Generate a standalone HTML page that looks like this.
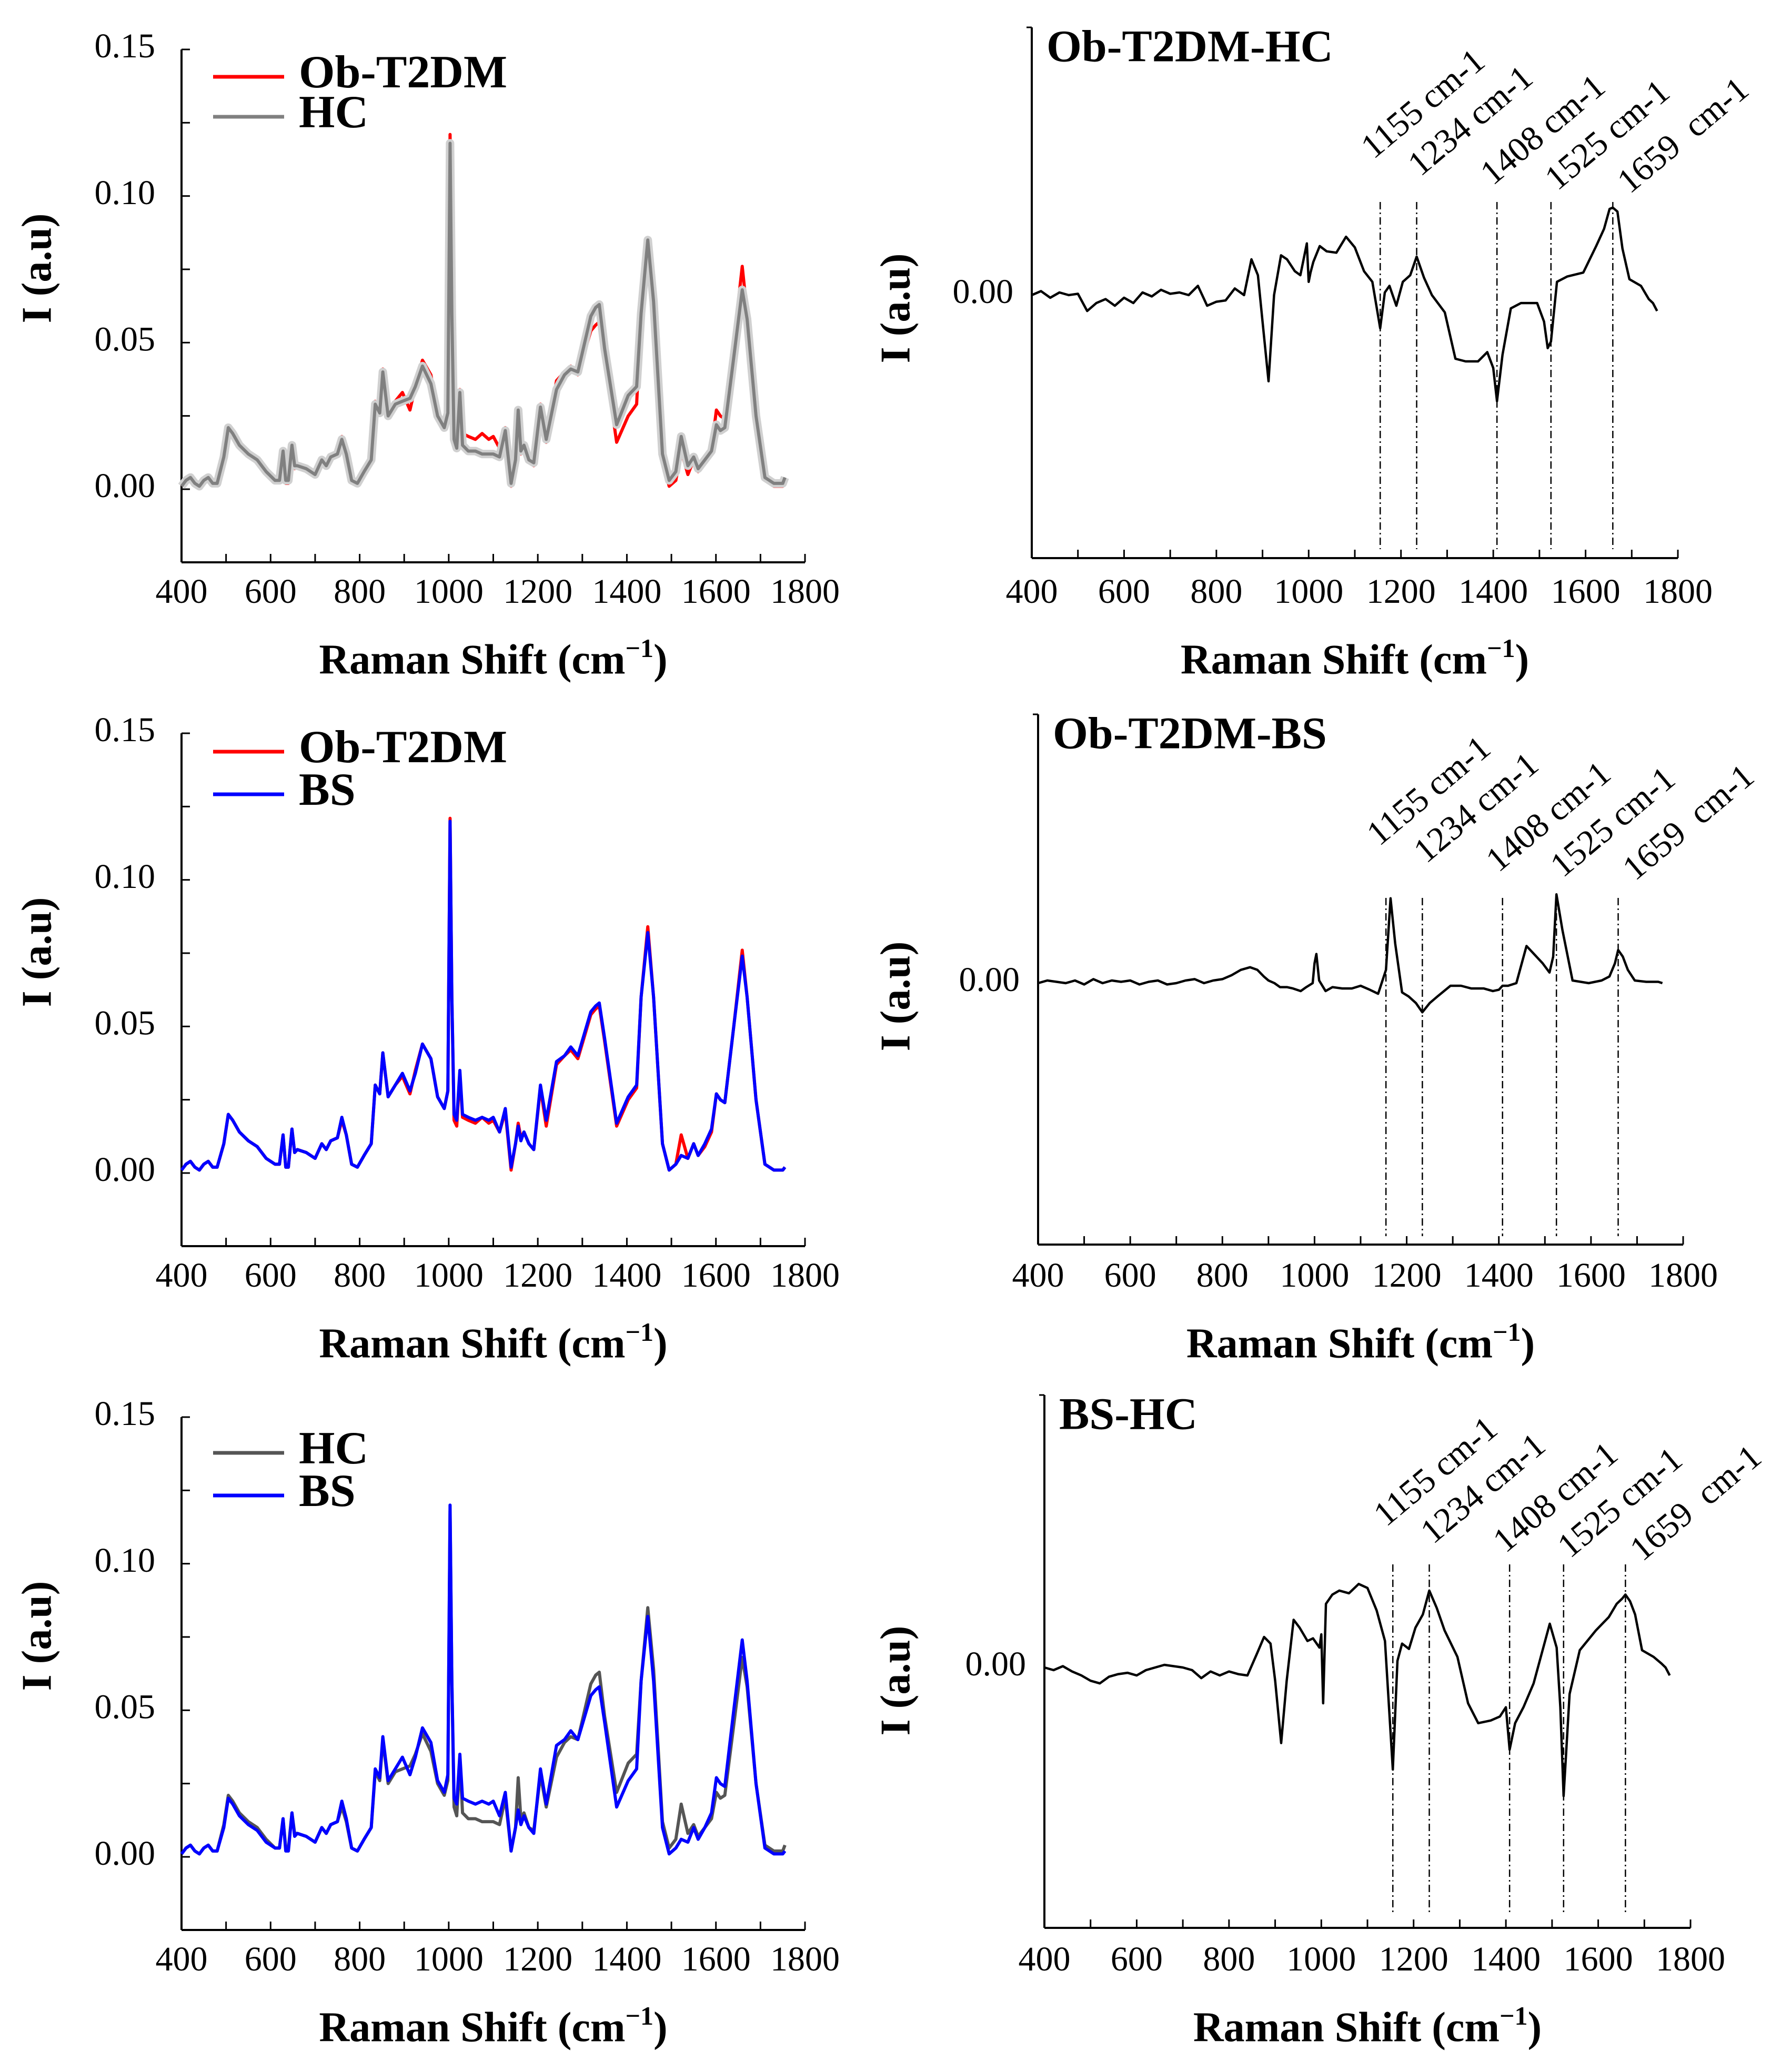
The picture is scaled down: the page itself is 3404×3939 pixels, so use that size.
<!DOCTYPE html>
<html><head><meta charset="utf-8"><style>
html,body{margin:0;padding:0;background:#fff}
svg{display:block}
text{font-family:"Liberation Serif",serif;fill:#000}
</style></head><body>
<svg id="fig" xmlns="http://www.w3.org/2000/svg" width="3404" height="3939" viewBox="0 0 3404 3939"></svg>
<script>
// ---- data: Raman shift positions (cm-1) ----
const shifts = [400,410,420,430,440,450,460,470,480,495,505,515,530,550,570,590,610,620,628,634,640,648,654,660,680,700,715,725,735,750,760,770,782,795,810,826,835,845,852,864,880,896,913,925,941,960,975,990,998,1003,1007,1012,1018,1025,1031,1044,1060,1075,1090,1100,1114,1127,1140,1150,1156,1162,1169,1180,1191,1206,1219,1242,1260,1274,1290,1319,1330,1338,1350,1377,1403,1422,1432,1447,1460,1480,1495,1510,1522,1537,1550,1560,1575,1590,1601,1610,1620,1640,1659,1670,1690,1710,1730,1750,1755];
const obT2dm = [.001,.003,.004,.002,.001,.003,.004,.002,.002,.010,.020,.018,.014,.011,.009,.005,.003,.003,.013,.002,.002,.015,.007,.008,.007,.005,.010,.008,.011,.012,.018,.013,.003,.002,.006,.010,.030,.027,.041,.026,.030,.033,.027,.035,.044,.039,.026,.022,.028,.121,.060,.018,.016,.034,.019,.018,.017,.019,.017,.018,.014,.021,.001,.010,.017,.012,.014,.010,.008,.029,.016,.037,.040,.042,.039,.054,.056,.057,.045,.016,.025,.029,.060,.084,.060,.010,.001,.003,.013,.005,.010,.006,.009,.014,.027,.025,.024,.050,.076,.060,.025,.003,.001,.001,.002];
const hc = [.001,.003,.004,.002,.001,.003,.004,.002,.002,.011,.021,.019,.015,.012,.010,.006,.003,.003,.013,.003,.003,.015,.008,.008,.007,.005,.010,.008,.011,.012,.017,.012,.003,.002,.006,.010,.029,.026,.040,.025,.029,.030,.031,.035,.042,.036,.025,.021,.026,.118,.060,.017,.014,.033,.015,.013,.013,.012,.012,.012,.011,.020,.002,.010,.027,.013,.015,.010,.009,.028,.017,.034,.039,.041,.040,.059,.062,.063,.048,.022,.032,.035,.060,.085,.064,.012,.003,.006,.018,.008,.011,.007,.010,.013,.022,.020,.021,.045,.068,.058,.025,.004,.002,.002,.004];
const bs = [.001,.003,.004,.002,.001,.003,.004,.002,.002,.010,.020,.018,.014,.011,.009,.005,.003,.003,.013,.002,.002,.015,.007,.008,.007,.005,.010,.008,.011,.012,.019,.013,.003,.002,.006,.010,.030,.027,.041,.026,.030,.034,.028,.034,.044,.039,.026,.022,.028,.120,.060,.020,.018,.035,.020,.019,.018,.019,.018,.019,.014,.022,.002,.010,.016,.011,.014,.010,.008,.030,.018,.038,.040,.043,.040,.055,.057,.058,.046,.017,.026,.030,.060,.082,.060,.010,.001,.003,.006,.005,.010,.006,.010,.015,.027,.025,.024,.050,.074,.060,.025,.003,.001,.001,.002];
const yTickLabels = ["0.00","0.05","0.10","0.15"];
const xTickLabels = ["400","600","800","1000","1200","1400","1600","1800"];
// ---- difference spectra ----
const diffShifts = [400,420,440,460,480,500,520,540,560,580,600,620,640,660,680,700,720,740,760,780,800,820,840,860,876,890,900,913,925,940,953,970,982,996,1000,1004,1010,1024,1039,1060,1081,1100,1120,1138,1155,1165,1175,1190,1204,1220,1234,1250,1267,1295,1318,1340,1367,1387,1400,1408,1420,1438,1460,1495,1510,1518,1525,1538,1560,1595,1623,1640,1652,1659,1669,1680,1695,1720,1737,1746,1755];
const diffObHc = [0,.03,-.02,.02,0,.01,-.12,-.06,-.03,-.08,-.02,-.06,.02,-.01,.04,.01,.02,0,.07,-.08,-.05,-.04,.05,0,.27,.15,-.2,-.65,.0,.3,.27,.18,.15,.39,.1,.17,.25,.37,.33,.32,.44,.36,.18,.1,-.25,.02,.07,-.08,.1,.15,.29,.13,.0,-.13,-.48,-.5,-.5,-.43,-.55,-.8,-.45,-.1,-.06,-.06,-.2,-.4,-.35,.1,.14,.17,.37,.5,.65,.66,.63,.35,.12,.07,-.03,-.06,-.12];
const diffObBs = [0,.02,.01,0,.02,-.01,.03,.0,.02,.01,.02,-.01,.01,.02,-.01,.0,.02,.03,.0,.02,.03,.06,.1,.12,.1,.05,.02,.0,-.03,-.03,-.04,-.06,-.03,.0,.15,.22,.02,-.06,-.03,-.04,-.04,-.02,-.05,-.08,.1,.64,.3,-.07,-.1,-.15,-.22,-.15,-.1,-.02,-.02,-.04,-.04,-.06,-.05,-.02,-.02,.0,.28,.15,.08,.2,.67,.4,.02,.0,.02,.05,.15,.25,.2,.1,.02,.01,.01,.01,.0];
const diffBsHc = [0,-.02,.01,-.03,-.06,-.1,-.12,-.07,-.05,-.04,-.06,-.02,.0,.02,.01,.0,-.02,-.08,-.03,-.06,-.03,-.05,-.06,.1,.23,.18,-.1,-.57,-.1,.36,.3,.2,.22,.15,.25,-.27,.48,.55,.58,.56,.63,.6,.43,.2,-.77,.05,.18,.14,.3,.4,.58,.45,.28,.08,-.27,-.42,-.4,-.37,-.3,-.62,-.42,-.3,-.12,.33,.15,-.3,-.97,-.2,.13,.28,.38,.48,.52,.55,.5,.4,.13,.08,.03,.0,-.06];
const markerShifts = [1155,1234,1408,1525,1659];
const markerLabels = ["1155 cm-1","1234 cm-1","1408 cm-1","1525 cm-1","1659\u00a0\u00a0cm-1"];

const NS = "http://www.w3.org/2000/svg";
const svg = document.getElementById('fig');
function mk(tag, attrs, parent){
  const e = document.createElementNS(NS, tag);
  for (const k in attrs) e.setAttribute(k, attrs[k]);
  (parent||svg).appendChild(e);
  return e;
}
function xScale(p){ return v => p.x0 + (v-400)/(1400)*(p.x1-p.x0); }

function ramanTitle(cx, cy, g){
  const t = mk('text', {x:cx, y:cy, 'text-anchor':'middle', 'font-size':80, 'font-weight':'bold', 'dominant-baseline':'middle'}, g);
  
  
  t.appendChild(document.createTextNode('Raman Shift (cm'));
  const s = mk('tspan', {'font-size':50, dy:-24}, t);
  s.textContent = '\u22121';
  const s2 = mk('tspan', {dy:24}, t);
  s2.textContent = ')';
}
function yTitle(cx, cy, g){
  const t = mk('text', {x:0, y:0, transform:`translate(${cx},${cy}) rotate(-90)`, 'text-anchor':'middle', 'dominant-baseline':'middle', 'font-size':80, 'font-weight':'bold'}, g);
  
  
  t.textContent = 'I (a.u)';
}
function xAxis(p, X, g){
  const ax = mk('line', {x1:p.x0, y1:p.bottom, x2:p.x1, y2:p.bottom, stroke:'#000', 'stroke-width':4}, g);
  
  
  for (let v=400; v<=1800; v+=100){
    const tk = mk('line', {x1:X(v), y1:p.bottom, x2:X(v), y2:p.bottom-16, stroke:'#000', 'stroke-width':3}, g);
    
    
  }
  xTickLabels.forEach((lab,i)=>{
    const v = 400 + i*200;
    const t = mk('text', {x:X(v), y:p.labY, 'text-anchor':'middle', 'dominant-baseline':'middle', 'font-size':66}, g);
    
    
    t.textContent = lab;
  });
  ramanTitle((p.x0+p.x1)/2, p.titleY, g);
}
function linePath(xs, vals, X, Y){
  return xs.map((v,i)=>(i?'L':'M')+X(v).toFixed(1)+' '+Y(vals[i]).toFixed(1)).join(' ');
}

// ---- left panels ----
const left = [
  {y15:94, series:[{v:obT2dm,c:'#ff0000',n:'Ob-T2DM'},{v:hc,c:'#808080',n:'HC',band:true}], legY:[146,222]},
  {y15:1394, series:[{v:obT2dm,c:'#ff0000',n:'Ob-T2DM'},{v:bs,c:'#0000ff',n:'BS'}], legY:[1429,1510]},
  {y15:2694, series:[{v:hc,c:'#555555',n:'HC'},{v:bs,c:'#0000ff',n:'BS'}], legY:[2762,2843]}
];
left.forEach((L,k)=>{
  const g = mk('g', {});
  
  
  const y0 = L.y15 + 836;
  const p = {x0:345, x1:1530, bottom:y0+139, labY:1131+1300*k, titleY:1262+1300*k};
  const X = xScale(p);
  const Y = v => y0 - v/0.15*836;
  const ya = mk('line', {x1:p.x0, y1:L.y15, x2:p.x0, y2:p.bottom, stroke:'#000', 'stroke-width':4}, g);
  
  
  for (let v=-0.025; v<=0.151; v+=0.025){
    const tk = mk('line', {x1:p.x0, y1:Y(v), x2:p.x0+16, y2:Y(v), stroke:'#000', 'stroke-width':3}, g);
    
    
  }
  yTickLabels.forEach((lab,i)=>{
    const t = mk('text', {x:295, y:Y(i*0.05), 'text-anchor':'end', 'dominant-baseline':'middle', 'font-size':66}, g);
    
    
    t.textContent = lab;
  });
  xAxis(p, X, g);
  yTitle(78, y0-420, g);
  L.series.forEach((s,j)=>{
    if (s.band){
      const b = mk('path', {d:linePath(shifts, s.v, X, Y), fill:'none', stroke:'#d0d0d0', 'stroke-width':16, 'stroke-linejoin':'round'}, g);
      
      
    }
    const pth = mk('path', {d:linePath(shifts, s.v, X, Y), fill:'none', stroke:s.c, 'stroke-width':6, 'stroke-linejoin':'round'}, g);
    
    
    const ly = L.legY[j];
    const ll = mk('line', {x1:405, y1:ly, x2:540, y2:ly, stroke:s.c, 'stroke-width':7}, g);
    
    
    const lt = mk('text', {x:568, y:ly, 'dominant-baseline':'middle', 'font-size':88, 'font-weight':'bold'}, g);
    
    
    lt.textContent = s.n;
  });
});

// ---- right panels ----
const right = [
  {x0:1961, x1:3189, top:52, zero:561, bottom:1061, vals:diffObHc, title:'Ob-T2DM-HC', dash:[384,1044], labTop:52},
  {x0:1973, x1:3199, top:1358, zero:1869, bottom:2366, vals:diffObBs, title:'Ob-T2DM-BS', dash:[1707,2350], labTop:1358},
  {x0:1985, x1:3213, top:2652, zero:3170, bottom:3665, vals:diffBsHc, title:'BS-HC', dash:[2974,3640], labTop:2652}
];
const labDx = [-13,7,-8,12,32];
const labDy = [252,285,302,312,318];
right.forEach((R,k)=>{
  const g = mk('g', {});
  
  
  const p = {x0:R.x0, x1:R.x1, bottom:R.bottom, labY:1131+1300*k, titleY:1262+1300*k};
  const X = xScale(p);
  const Y = v => R.zero - v*252;
  const ya = mk('line', {x1:p.x0, y1:R.top, x2:p.x0, y2:p.bottom, stroke:'#000', 'stroke-width':4}, g);
  
  
  const tk0 = mk('line', {x1:R.x0-10, y1:R.top, x2:R.x0, y2:R.top, stroke:'#000', 'stroke-width':3}, g);
  
  
  const zl = mk('text', {x:R.x0-35, y:R.zero, 'text-anchor':'end', 'dominant-baseline':'middle', 'font-size':66}, g);
  
  
  zl.textContent = '0.00';
  xAxis(p, X, g);
  yTitle(1710, R.zero+25, g);
  const tt = mk('text', {x:R.x0+28, y:R.top+45, 'dominant-baseline':'middle', 'font-size':86, 'font-weight':'bold'}, g);
  
  
  tt.textContent = R.title;
  markerShifts.forEach((m,i)=>{
    const dl = mk('line', {x1:X(m), y1:R.dash[0], x2:X(m), y2:R.dash[1], stroke:'#000', 'stroke-width':2.5, 'stroke-dasharray':'14 6 3 6'}, g);
    
    
    const lx = X(m)+labDx[i], ly = R.labTop+labDy[i];
    const lt = mk('text', {x:0, y:0, transform:`translate(${lx},${ly}) rotate(-40)`, 'font-size':66}, g);
    
    
    lt.textContent = markerLabels[i];
  });
  const pth = mk('path', {d:linePath(diffShifts, R.vals, X, Y), fill:'none', stroke:'#000', 'stroke-width':4.5, 'stroke-linejoin':'round'}, g);
  
  
});
</script>
</body></html>
